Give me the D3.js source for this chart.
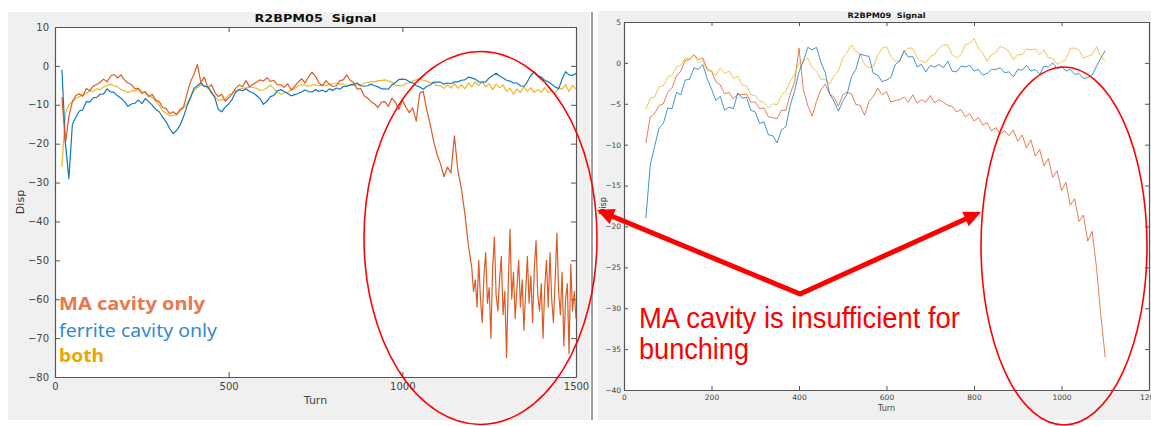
<!DOCTYPE html>
<html>
<head>
<meta charset="utf-8">
<script src="https://cdn.jsdelivr.net/npm/d3@7"></script>
<style>
  body { margin: 0; background: #fff; }
  svg { display: block; }
</style>
</head>
<body>
<svg id="display"></svg>
<script>
let svg = d3.select('#display')
const width = 1151
const height = 426
svg.attr('width', width).attr('height', height)

// ---- data ----
const seriesNames = ['MA cavity only', 'ferrite cavity only', 'both']
const seriesColors = ['#D95319', '#0072BD', '#EDB120']
const legendColors = ['#E8784E', '#2F8AD0', '#EDA500']

const leftTitle = 'R2BPM05\u00a0\u00a0Signal'
const leftXTicks = [0, 500, 1000, 1500]
const leftYTicks = [10, 0, -10, -20, -30, -40, -50, -60, -70, -80]
const leftTurns = d3.range(20, 1501, 10)

// MA cavity only, turns 20..1190 every 10
const leftMA = [
  -8, -20, -13, -9.2, -7.6, -7.2, -7.8, -5.8, -6.4, -5.2,
  -4.8, -4.2, -3.4, -4.1, -2.6, -2.2, -3.1, -2.3, -3.6, -4.4,
  -4.8, -5.9, -5.8, -7.1, -6.6, -7.9, -7.3, -8.8, -9.2, -10.7,
  -11, -12.3, -11.8, -12.5, -11.2, -10.6, -7.2, -4.1, -2.2, 0.4,
  -4.3, -2.9, -5.7, -4.8, -6.8, -7.9, -7.3, -9.1, -8.2, -7.2,
  -5.8, -4.9, -5.3, -3.8, -5.4, -4.7, -4.2, -3.6, -3.9, -3,
  -4, -3.7, -4.8, -4.9, -5.5, -4.6, -6.2, -5.3, -4.2, -3.3,
  -4.4, -2.8, -1.6, -2.7, -4.4, -5.1, -3.8, -4.7, -5.3, -5.1,
  -3.8, -3.6, -2.3, -3.7, -4.3, -6, -5.8, -7.7, -8.3, -9.2,
  -9.8, -10.7, -9.3, -9.2, -10.4, -8.3, -9.4, -11.2, -8.8, -10.6,
  -12, -10.8, -14.2, -7, -6.5, -11.2, -15, -19.3, -22.8, -25.2,
  -28.5, -26, -27.5, -18, -27, -31.5, -38, -46
]
// MA cavity only, turns 1200..1500 every 5 (noisy band)
const leftMATail = [
  -52, -58, -55, -62, -50, -60, -66, -54, -48, -61,
  -57, -70, -52, -44, -59, -63, -55, -49, -64, -58,
  -75, -56, -42, -60, -53, -65, -57, -50, -62, -55,
  -68, -58, -49, -61, -54, -66, -52, -45, -59, -63,
  -56, -70, -57, -50, -62, -48, -60, -66, -55, -43,
  -58, -64, -53, -72, -60, -56, -74, -51, -63, -58,
  -65
]
const leftFerrite = [
  -1, -20, -29, -15, -13.2, -11.6, -11.3, -9.2, -9.3, -8.2,
  -8.1, -7.3, -7.2, -5.9, -6.7, -6.8, -7.7, -8.3, -9.2, -10.4,
  -9.8, -9.6, -8.8, -9.7, -8.4, -9.2, -10.1, -11.2, -11.8, -13.2,
  -14.4, -16.1, -17.4, -16.6, -15.3, -13.1, -10.4, -8.2, -5.8, -5.1,
  -4.4, -5.2, -5.4, -6.7, -8.1, -11.2, -11.8, -10.6, -9.8, -8.6,
  -6.8, -6.1, -6.4, -5.9, -6.6, -6.9, -7.6, -8.4, -9.9, -9.1,
  -7.9, -7.6, -6.4, -6.1, -6.6, -7.1, -7.7, -7.4, -7.1, -6.7,
  -6.2, -6.6, -6.7, -6.1, -6.6, -6.2, -6.7, -5.9, -6.3, -5.7,
  -6, -5.3, -5.3, -4.9, -4.7, -4.4, -5.1, -5.2, -5.1, -4.7,
  -5.1, -5.4, -5.9, -5.9, -6, -4.9, -4.3, -3.5, -3.4, -3.5,
  -4.1, -4.4, -5.1, -5.4, -6, -5.3, -4.9, -4.2, -4.2, -4.2,
  -4.7, -4.4, -4.6, -4.1, -4.1, -3.7, -3.6, -2.9, -3.1, -3.4,
  -4.1, -4.2, -4.1, -3.1, -2.5, -1.9, -2.6, -3.1, -3.7, -3.9,
  -4.4, -4.4, -5.1, -5.3, -4.1, -2.4, -1.5, -2.5, -2.9, -3.7,
  -4.1, -4.7, -5.4, -5.9, -3.4, -1.5, -2.3, -2.5, -1.9
]
const leftBoth = [
  -26, -12, -10, -9.2, -8.4, -7.9, -7.4, -7.1, -6.4, -6.6,
  -5.9, -6.1, -5.4, -5.1, -4.7, -5.1, -5.4, -6.1, -6.4, -6.9,
  -6.4, -6.4, -6.1, -6.6, -6.9, -7.6, -8.1, -9.1, -10.1, -11.6,
  -12.2, -12.9, -12.7, -12.6, -11.7, -10.9, -9.6, -8.1, -6.4, -5.6,
  -4.9, -5.3, -5.5, -7.1, -7.9, -8.8, -8.8, -8.5, -7.5, -7.1,
  -6.4, -6.1, -5.7, -5.7, -5.4, -5.6, -5.7, -6.3, -6.2, -5.7,
  -4.9, -5.9, -6.7, -7.3, -6.9, -6.8, -6.2, -5.9, -5.1, -4.9,
  -4.9, -5.3, -4.9, -4.9, -5.1, -4.9, -5.1, -4.7, -4.6, -4.4,
  -4.7, -4.7, -5.1, -4.9, -5.1, -4.9, -4.9, -4.4, -4.3, -4,
  -4.1, -3.8, -3.8, -3.6, -3.9, -4.1, -5.1, -5.1, -5.1, -4.5,
  -4.4, -3.9, -3.6, -3.2, -3.7, -3.9, -4.3, -4.4, -5.1, -5.1,
  -5.8, -4.9, -5.7, -4.5, -5.8, -4.8, -5.9, -4.4, -5.4, -4.1,
  -5.1, -4, -5.4, -4.6, -6.1, -4.7, -5.6, -4.9, -6.6, -5.7,
  -7.3, -5.9, -6.9, -5.4, -6.5, -5.6, -6.8, -6.1, -6.8, -5.6,
  -6.9, -6.4, -7.1, -5.6, -6, -4.8, -6.6, -5, -6
]

const rightTitle = 'R2BPM09\u00a0\u00a0Signal'
const rightXTicks = [0, 200, 400, 600, 800, 1000, 1200]
const rightYTicks = [5, 0, -5, -10, -15, -20, -25, -30, -35, -40]
const rightTurns = d3.range(50, 1101, 10)

const rightMA = [
  -9.8, -6.6, -6.2, -5.2, -5, -3.6, -3, -1.6, -1, 0.3,
  0.4, 1, 0.4, 0.6, -0.7, -1, -2.3, -2.7, -3.8, -3.6,
  -4.4, -3.8, -3.9, -3.8, -4.8, -4.8, -5.6, -5.5, -6.6, -6.7,
  -6.8, -5.8, -5.8, -3.8, -2.3, 1.8, -3.3, -5.2, -6.5, -4.7,
  -3.3, -2.6, -3.8, -4.2, -5.3, -3.9, -3.6, -3.8, -5.1, -5.2,
  -6.4, -4.7, -4.1, -3.1, -3.9, -3.5, -4.8, -4.6, -4.5, -4.2,
  -4.8, -3.9, -4.9, -4.5, -4.8, -4, -4.9, -4.5, -4.8, -5.2,
  -5.3, -6, -5.7, -6.6, -6.2, -7.1, -6.7, -7.6, -7.3, -8.3,
  -7.9, -8.7, -8.3, -8.9, -8.2, -9.6, -8.8, -10.4, -9.4, -11.4,
  -10.6, -12.6, -11.7, -14, -13.2, -15.6, -14.6, -17.4, -16.6, -19.4,
  -18.6, -21.8, -20.6, -25, -31, -36
]
const rightFerrite = [
  -19, -12.5, -10.2, -8, -7.4, -5.5, -5.6, -3.6, -3.9, -2.1,
  -2, -0.6, -0.8, -0.2, -1.9, -3.2, -4.6, -4.1, -5.8, -5.4,
  -5.6, -3.7, -4.3, -4.2, -5.8, -6, -7.4, -7.2, -8.8, -8.9,
  -9.8, -8.2, -7.8, -5.2, -3.4, -1.1, 0.2, 1.9, 1.6, 1.9,
  0.1, -1.2, -3.8, -4.7, -5.9, -4.7, -3.8, -1.7, -0.8, 1.1,
  0.9, 0.8, -1.3, -1.5, -2.3, -2.1, -1.8, -0.2, 0.2, 1.5,
  0.7, 0.8, -0.5, -0.2, -1.1, -0.3, -0.5, -0.2, -0.6, 0.2,
  -1, -1.1, -0.4, -0.5, -0.3, -1, -0.8, -1.5, -1.3, -0.8,
  -0.8, -0.6, -1.2, -1.1, -1.7, -0.8, -0.9, -0.3, -1, -0.8,
  -1.4, -0.4, -0.5, 0, -0.7, -0.4, -1, -0.8, -1.4, -1.3,
  -1.9, -1.8, -1.5, -0.4, 0.6, 1.5
]
const rightBoth = [
  -5.7, -4.3, -4.2, -2.9, -2.8, -1.7, -1.5, -0.5, -0.3, 0.6,
  0.5, 1, 0, 0.3, -1, -1, -1.5, -0.6, -1.3, -1,
  -1.9, -1.6, -2.7, -2.8, -3.9, -4, -4.7, -4.8, -5.5, -5,
  -5.1, -4, -3.4, -2.2, -1.4, 0, 0.2, 0.6, -0.6, -1,
  -2, -2, -2.6, -1.6, -1, 0.6, 1.3, 2.2, 1.4, 1,
  -0.2, -0.6, -0.4, 1, 1.8, 2, 0.8, 0.2, 0.2, 1.4,
  1.8, 1.8, 0.6, 0.2, 0, 0.8, 1, 1.8, 2.2, 2.2,
  1, 0.6, 1, 2.2, 2.4, 3, 1.8, 1.2, 0.2, 1,
  1.3, 2, 1.8, 1.4, 0.4, 1, 1, 1.7, 1.6, 1.7,
  1, 1.6, 0.6, 0.6, -0.2, 0.1, 0.4, 1.8, 1.8, 1.6,
  0.6, 0.8, 1, 2, 0.8, 0.2
]

const noteLines = ['MA cavity is insufficient for', 'bunching']

// ---- panel backgrounds ----
svg.append('rect').attr('x', 8).attr('y', 12).attr('width', 582).attr('height', 408).attr('fill', '#f0f0f0')
svg.append('rect').attr('x', 598).attr('y', 11).attr('width', 553).attr('height', 409).attr('fill', '#f0f0f0')
svg.append('line').attr('x1', 592).attr('x2', 592).attr('y1', 12).attr('y2', 420)
  .attr('stroke', '#a0a0a0').attr('stroke-width', 2)

function drawPanel(opt) {
  const x = d3.scaleLinear().domain(opt.xDomain).range([opt.left, opt.right])
  const y = d3.scaleLinear().domain(opt.yDomain).range([opt.bottom, opt.top])
  const g = svg.append('g')

  g.append('rect')
    .attr('x', opt.left).attr('y', opt.top)
    .attr('width', opt.right - opt.left).attr('height', opt.bottom - opt.top)
    .attr('fill', '#fff')

  const tick = opt.tick
  const fmt = d3.format('d')
  const axes = [
    [d3.axisBottom(x).tickValues(opt.xTicks).tickFormat(fmt), 'translate(0,' + opt.bottom + ')'],
    [d3.axisTop(x).tickValues(opt.xTicks).tickFormat(''), 'translate(0,' + opt.top + ')'],
    [d3.axisLeft(y).tickValues(opt.yTicks).tickFormat(fmt), 'translate(' + opt.left + ',0)'],
    [d3.axisRight(y).tickValues(opt.yTicks).tickFormat(''), 'translate(' + opt.right + ',0)']
  ]
  axes.forEach((a, i) => {
    const ax = g.append('g')
      .attr('transform', a[1])
      .call(a[0].tickSizeInner(-tick).tickSizeOuter(0).tickPadding(i == 0 ? opt.xPad : opt.yPad))
    ax.select('.domain').attr('stroke', '#555').attr('stroke-width', 1.2)
    ax.selectAll('.tick line').attr('stroke', '#555')
    ax.selectAll('.tick text')
      .attr('fill', '#444')
      .style('font-family', 'DejaVu Sans')
      .style('font-size', opt.tickFont + 'px')
  })

  const line = d3.line().x(d => x(d[0])).y(d => y(d[1]))
  opt.order.forEach(k => {
    const s = opt.series[k]
    const pts = s.turns.map((t, i) => [t, s.values[i]]).filter(d => d[1] !== undefined)
    g.append('path')
      .datum(pts)
      .attr('d', line)
      .attr('fill', 'none')
      .attr('stroke', seriesColors[k])
      .attr('stroke-width', opt.lineWidth)
      .attr('stroke-opacity', opt.lineOpacity)
      .attr('stroke-linejoin', 'round')
  })

  g.append('text')
    .attr('x', (opt.left + opt.right) / 2).attr('y', opt.titleY)
    .attr('text-anchor', 'middle')
    .attr('textLength', opt.titleLen).attr('lengthAdjust', 'spacingAndGlyphs')
    .style('font-family', 'DejaVu Sans').style('font-weight', 'bold')
    .style('font-size', opt.titleFont + 'px').attr('fill', '#111')
    .text(opt.title)

  g.append('text')
    .attr('x', (opt.left + opt.right) / 2).attr('y', opt.turnY)
    .attr('text-anchor', 'middle')
    .style('font-family', 'DejaVu Sans').style('font-size', opt.labelFont + 'px')
    .attr('fill', '#444')
    .text('Turn')

  g.append('text')
    .attr('transform', 'translate(' + opt.dispX + ',' + (opt.top + opt.bottom) / 2 + ') rotate(-90)')
    .attr('text-anchor', 'middle')
    .style('font-family', 'DejaVu Sans').style('font-size', opt.labelFont + 'px')
    .attr('fill', '#333')
    .text('Disp')

  return { x, y }
}

const leftMATurns = d3.range(20, 1191, 10).concat(d3.range(1200, 1501, 5))

drawPanel({
  left: 55, right: 576, top: 27, bottom: 377,
  xDomain: [0, 1500], yDomain: [-80, 10],
  xTicks: leftXTicks, yTicks: leftYTicks,
  tick: 5, xPad: 6, yPad: 6, tickFont: 10,
  series: [
    { turns: leftMATurns, values: leftMA.concat(leftMATail) },
    { turns: leftTurns, values: leftFerrite },
    { turns: leftTurns, values: leftBoth }
  ],
  order: [2, 1, 0],
  lineWidth: 1.2, lineOpacity: 0.95,
  title: leftTitle, titleY: 22, titleLen: 122, titleFont: 10.5,
  turnY: 404, dispX: 24, labelFont: 11
})

drawPanel({
  left: 624, right: 1149, top: 22, bottom: 390,
  xDomain: [0, 1200], yDomain: [-40, 5],
  xTicks: rightXTicks, yTicks: rightYTicks,
  tick: 4, xPad: 5, yPad: 3, tickFont: 7.5,
  series: [
    { turns: rightTurns, values: rightMA },
    { turns: rightTurns, values: rightFerrite },
    { turns: rightTurns, values: rightBoth }
  ],
  order: [0, 2, 1],
  lineWidth: 1, lineOpacity: 0.75,
  title: rightTitle, titleY: 18, titleLen: 78, titleFont: 7.5,
  turnY: 411, dispX: 606, labelFont: 8
})

// ---- legend text in the left panel ----
const legendY = [310, 337, 362]
const legendLen = [146, 158, 45]
const legendWeight = ['bold', 'normal', 'bold']
seriesNames.forEach((name, i) => {
  svg.append('text')
    .attr('x', 59).attr('y', legendY[i])
    .attr('textLength', legendLen[i]).attr('lengthAdjust', 'spacingAndGlyphs')
    .style('font-family', 'Noto Sans').style('font-size', '18px')
    .style('font-weight', legendWeight[i])
    .attr('fill', legendColors[i])
    .text(name)
})

// ---- annotations ----
const red = '#ff0000'
svg.append('ellipse').attr('cx', 480.5).attr('cy', 238).attr('rx', 116.5).attr('ry', 186.5)
  .attr('fill', 'none').attr('stroke', red).attr('stroke-width', 1.6)
svg.append('ellipse').attr('cx', 1064).attr('cy', 246).attr('rx', 83).attr('ry', 179)
  .attr('fill', 'none').attr('stroke', red).attr('stroke-width', 1.6)

const vertex = [800, 294]
const tips = [[597, 210], [981, 212]]
tips.forEach(tip => {
  const dx = tip[0] - vertex[0], dy = tip[1] - vertex[1]
  const len = Math.hypot(dx, dy)
  const ux = dx / len, uy = dy / len
  const headLen = 17, headW = 8
  const bx = tip[0] - ux * headLen, by = tip[1] - uy * headLen
  svg.append('line')
    .attr('x1', vertex[0]).attr('y1', vertex[1])
    .attr('x2', bx + ux * 2).attr('y2', by + uy * 2)
    .attr('stroke', red).attr('stroke-width', 5).attr('stroke-linecap', 'butt')
  svg.append('polygon')
    .attr('points', [
      [tip[0], tip[1]],
      [bx - uy * headW, by + ux * headW],
      [bx + uy * headW, by - ux * headW]
    ].map(p => p.join(',')).join(' '))
    .attr('fill', red)
})
svg.append('circle').attr('cx', vertex[0]).attr('cy', vertex[1]).attr('r', 2.5).attr('fill', red)

const noteY = [328, 359]
const noteLen = [321, 110]
noteLines.forEach((t, i) => {
  svg.append('text')
    .attr('x', 639).attr('y', noteY[i])
    .attr('textLength', noteLen[i]).attr('lengthAdjust', 'spacingAndGlyphs')
    .style('font-family', 'Liberation Sans').style('font-size', '29px')
    .attr('fill', red)
    .text(t)
})
</script>
</body>
</html>
